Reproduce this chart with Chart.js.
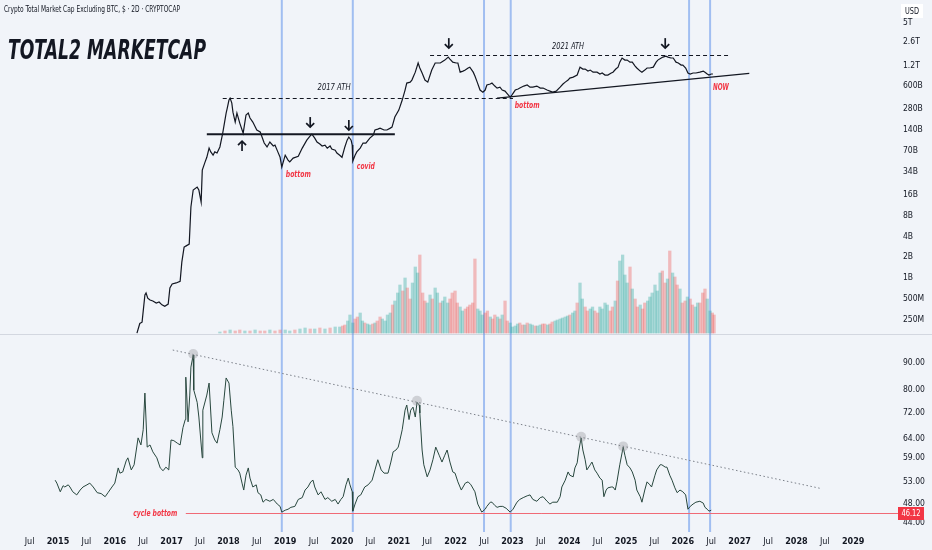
<!DOCTYPE html>
<html><head><meta charset="utf-8">
<script src="https://cdn.jsdelivr.net/npm/chart.js@4.4.0/dist/chart.umd.min.js"></script>
<style>html,body{margin:0;padding:0;background:#f1f4f9;overflow:hidden}canvas{display:block}</style>
</head><body>
<canvas id="c" width="932" height="550"></canvas>
<script>
// ---- price (TOTAL2, billions USD) ----
const priceDates=[2016.39,2016.44,2016.48,2016.53,2016.55,2016.58,2016.62,2016.67,2016.73,2016.78,
2016.83,2016.88,2016.94,2016.97,2017.01,2017.08,2017.15,2017.18,2017.22,2017.25,
2017.31,2017.34,2017.38,2017.45,2017.48,2017.52,2017.54,2017.59,2017.62,2017.66,
2017.69,2017.73,2017.76,2017.80,2017.85,2017.90,2017.96,2017.98,2018.01,2018.03,
2018.06,2018.08,2018.12,2018.15,2018.20,2018.26,2018.31,2018.35,2018.38,2018.43,
2018.50,2018.56,2018.63,2018.68,2018.73,2018.79,2018.82,2018.87,2018.91,2018.94,
2019.00,2019.05,2019.08,2019.14,2019.23,2019.30,2019.38,2019.44,2019.47,2019.52,
2019.56,2019.61,2019.65,2019.70,2019.74,2019.79,2019.82,2019.88,2019.91,2019.96,
2020.00,2020.05,2020.09,2020.12,2020.16,2020.18,2020.19,2020.23,2020.26,2020.32,
2020.37,2020.42,2020.49,2020.55,2020.58,2020.63,2020.67,2020.74,2020.79,2020.85,
2020.88,2020.93,2021.00,2021.06,2021.11,2021.14,2021.20,2021.23,2021.29,2021.34,
2021.37,2021.41,2021.46,2021.51,2021.58,2021.64,2021.73,2021.81,2021.87,2021.90,
2021.95,2022.01,2022.04,2022.08,2022.13,2022.17,2022.22,2022.25,2022.31,2022.34,
2022.38,2022.43,2022.48,2022.52,2022.55,2022.61,2022.64,2022.69,2022.73,2022.78,
2022.82,2022.87,2022.90,2022.96,2022.99,2023.05,2023.10,2023.13,2023.20,2023.26,
2023.31,2023.36,2023.43,2023.49,2023.54,2023.61,2023.66,2023.71,2023.77,2023.84,
2023.89,2023.93,2023.98,2024.01,2024.07,2024.14,2024.19,2024.24,2024.28,2024.33,
2024.37,2024.42,2024.49,2024.54,2024.58,2024.63,2024.68,2024.74,2024.77,2024.82,
2024.86,2024.89,2024.93,2024.98,2025.02,2025.07,2025.11,2025.16,2025.19,2025.25,
2025.28,2025.33,2025.37,2025.42,2025.48,2025.53,2025.56,2025.62,2025.65,2025.70,
2025.74,2025.79,2025.83,2025.88,2025.92,2025.97,2026.00,2026.05,2026.09,2026.13,
2026.18,2026.23,2026.30,2026.36,2026.39,2026.43,2026.46,2026.50,2026.53];
const priceValues=[0.16,0.22,0.23,0.57,0.61,0.51,0.48,0.465,0.435,0.45,
0.41,0.39,0.42,0.72,0.82,0.85,0.90,1.7,2.8,2.9,
3.1,10.7,18.8,20.7,18.8,12.6,36.5,48,56,76,
67,60,67,64.5,79,125,244,289,377,402,
340,252,181,244,175,125,229,244,207,181,
139,130,90,79,93,81.5,84,67,56,40.5,
60,51,48,54.5,58,76,99,114,121,106,
93,87,81.5,84,76,81.5,73.5,71,64.5,60,
56,79,99,110,99,84,49.4,60,67,76,
90,90,106,117,139,143,148,139,139,148,
153,214,270,377,526,664,685,734,955,1296,
1097,929,734,685,1024,1296,1296,1428,1579,1478,
1333,1296,1296,955,990,1024,1097,1128,955,838,
685,526,491,526,622,643,664,601,562,580,
526,508,475,416,445,526,545,562,601,622,
580,580,601,562,562,526,508,491,508,580,
643,685,734,784,810,867,1128,1060,1060,990,
1024,955,955,898,929,867,867,929,955,1060,
1128,1333,1530,1428,1428,1333,1333,1170,1097,990,
955,1024,1097,1097,1128,1333,1428,1530,1579,1630,
1579,1530,1530,1333,1296,1210,1210,1097,929,898,
929,929,955,990,955,898,867,898,898];

// ---- lower pane indicator ----
const indDates=[2014.95,2014.98,2015.04,2015.09,2015.12,2015.18,2015.21,2015.26,2015.33,2015.39,
2015.44,2015.51,2015.56,2015.62,2015.69,2015.76,2015.83,2015.88,2015.95,2016.00,
2016.06,2016.09,2016.14,2016.20,2016.23,2016.29,2016.34,2016.41,2016.46,2016.50,
2016.53,2016.57,2016.62,2016.67,2016.74,2016.80,2016.85,2016.90,2016.95,2016.99,
2017.04,2017.10,2017.15,2017.20,2017.24,2017.25,2017.29,2017.32,2017.34,2017.38,
2017.39,2017.45,2017.48,2017.54,2017.55,2017.62,2017.66,2017.71,2017.76,2017.80,
2017.85,2017.89,2017.92,2017.96,2018.01,2018.05,2018.08,2018.12,2018.17,2018.20,
2018.24,2018.27,2018.31,2018.35,2018.38,2018.43,2018.49,2018.52,2018.57,2018.61,
2018.66,2018.73,2018.79,2018.86,2018.91,2018.94,2019.00,2019.05,2019.10,2019.17,
2019.23,2019.30,2019.35,2019.40,2019.45,2019.49,2019.52,2019.58,2019.63,2019.70,
2019.75,2019.82,2019.88,2019.93,2019.98,2020.02,2020.07,2020.11,2020.14,2020.18,
2020.19,2020.23,2020.28,2020.33,2020.40,2020.46,2020.53,2020.58,2020.63,2020.69,
2020.74,2020.81,2020.86,2020.90,2020.95,2020.99,2021.02,2021.06,2021.11,2021.14,
2021.18,2021.21,2021.25,2021.29,2021.32,2021.36,2021.37,2021.41,2021.44,2021.50,
2021.55,2021.60,2021.65,2021.71,2021.76,2021.81,2021.85,2021.90,2021.95,2021.99,
2022.04,2022.10,2022.17,2022.22,2022.27,2022.34,2022.39,2022.46,2022.52,2022.55,
2022.61,2022.64,2022.69,2022.73,2022.78,2022.83,2022.89,2022.96,2023.01,2023.08,
2023.13,2023.19,2023.26,2023.31,2023.36,2023.43,2023.49,2023.54,2023.61,2023.66,
2023.71,2023.79,2023.84,2023.87,2023.93,2023.98,2024.01,2024.07,2024.10,2024.14,
2024.17,2024.21,2024.24,2024.28,2024.31,2024.37,2024.40,2024.45,2024.49,2024.54,
2024.58,2024.61,2024.65,2024.68,2024.74,2024.77,2024.81,2024.84,2024.89,2024.95,
2024.98,2025.02,2025.07,2025.11,2025.16,2025.19,2025.25,2025.28,2025.33,2025.37,
2025.42,2025.45,2025.51,2025.54,2025.60,2025.63,2025.69,2025.72,2025.77,2025.81,
2025.86,2025.90,2025.95,2026.00,2026.05,2026.09,2026.13,2026.18,2026.23,2026.30,
2026.36,2026.39,2026.43,2026.46,2026.50];
const indValues=[53.3,52.6,50.6,52.0,51.7,52.2,51.7,50.6,49.9,51.0,
51.7,52.2,52.6,51.7,50.4,50.2,49.5,50.4,51.7,52.6,
56.3,55.0,55.3,58.1,58.9,55.8,57.1,64.4,62.4,66.8,
78.7,61.8,62.4,60.5,58.9,56.3,55.6,56.5,55.8,63.8,
63.6,62.9,62.4,67.4,69.9,84.5,69.2,78.0,88.4,93.3,
79.8,75.5,70.7,58.9,72.9,78.0,82.3,65.9,63.8,62.9,
66.8,70.7,76.2,84.2,82.3,72.9,67.7,56.5,55.8,55.0,
52.6,51.0,54.5,56.3,53.8,51.7,52.2,50.4,49.9,48.3,
48.9,48.5,48.9,47.9,47.4,46.2,46.6,46.8,47.2,47.4,
48.9,49.3,51.0,51.7,52.9,53.3,51.7,49.9,50.6,48.9,
49.3,48.5,48.9,47.9,48.9,49.5,52.2,53.8,52.2,50.6,
46.4,47.9,49.5,49.9,51.7,52.2,53.3,55.8,58.4,55.8,
55.0,55.0,57.8,60.5,61.0,61.8,63.8,66.8,72.9,74.6,
69.9,72.9,73.9,70.7,75.5,74.6,72.0,61.0,57.1,54.1,
55.8,58.4,61.8,59.6,57.8,59.6,61.0,57.8,55.3,55.0,
52.9,51.0,52.6,52.9,52.2,50.6,47.9,46.2,46.8,47.4,
48.3,48.3,47.6,47.2,47.4,47.4,47.0,46.2,46.8,48.3,
48.9,49.3,49.7,49.9,48.9,48.5,49.3,49.5,48.5,47.9,
48.3,48.3,49.5,51.7,53.3,55.3,54.5,54.1,56.3,57.6,
61.0,64.4,61.0,58.4,55.8,57.1,57.8,55.8,55.0,53.8,
53.3,49.5,51.0,51.5,51.7,51.7,51.0,52.9,57.1,61.8,
59.6,57.1,56.3,55.3,53.3,51.0,49.5,48.3,51.0,52.9,
52.2,51.7,54.5,55.8,57.1,57.1,56.5,56.5,54.5,53.3,
51.5,50.4,51.0,50.6,49.9,46.8,47.4,47.9,48.3,48.5,
48.1,47.2,46.8,46.4,46.6];

// ---- volume overlay (relative units) ----
const volDates=[2017.85,2017.94,2018.03,2018.12,2018.20,2018.29,2018.38,2018.47,2018.56,2018.64,
2018.73,2018.82,2018.91,2019.00,2019.08,2019.17,2019.26,2019.35,2019.44,2019.52,
2019.61,2019.70,2019.79,2019.88,2019.96,2020.05,2020.14,2020.23,2020.32,2020.40,
2020.49,2020.58,2020.67,2020.76,2020.85,2020.93,2021.02,2021.11,2021.20,2021.29,
2021.37,2021.46,2021.55,2021.64,2021.73,2021.81,2021.90,2021.99,2022.08,2022.17,
2022.25,2022.34,2022.43,2022.52,2022.61,2022.69,2022.78,2022.87,2022.96,2023.05,
2023.13,2023.22,2023.31,2023.40,2023.49,2023.57,2023.66,2023.75,2023.84,2023.93,
2024.01,2024.10,2024.19,2024.28,2024.37,2024.45,2024.54,2024.63,2024.72,2024.81,
2024.89,2024.98,2025.07,2025.16,2025.25,2025.33,2025.42,2025.51,2025.60,2025.69,
2025.77,2025.86,2025.95,2026.04,2026.13,2026.22,2026.30,2026.39,2026.48,2026.55];
const volValues=[1,2,3,2,3,2,2,3,2,2,
3,2,3,3,2,3,4,5,4,4,
5,4,5,6,6,8,18,14,20,10,
8,10,16,12,20,32,48,55,34,66,
78,32,38,45,30,36,34,42,26,24,
28,74,22,20,16,18,14,32,10,7,
10,8,9,7,8,9,9,12,14,16,
18,22,50,26,24,22,26,30,22,32,
72,58,66,34,28,30,36,48,60,50,
82,56,44,32,34,26,30,44,22,18];
const volDir="ududdududduddu uduudu duduududud uuduuuuudu dduududdud ddududdduu duududduuu duududuudu uudduduuud ddudduddud".replace(/ /g,'').split('');
// in-between bars (2020-2026, denser sampling)
const volDates2=[2020.01,2020.10,2020.19,2020.27,2020.36,2020.45,2020.54,2020.62,2020.71,2020.80,
2020.89,2020.98,2021.07,2021.15,2021.24,2021.33,2021.42,2021.50,2021.59,2021.68,
2021.77,2021.86,2021.94,2022.03,2022.12,2022.21,2022.30,2022.39,2022.47,2022.56,
2022.65,2022.74,2022.82,2022.91,2023.00,2023.09,2023.18,2023.26,2023.35,2023.44,
2023.53,2023.62,2023.70,2023.79,2023.88,2023.97,2024.06,2024.14,2024.23,2024.32,
2024.41,2024.50,2024.58,2024.67,2024.76,2024.85,2024.94,2025.02,2025.11,2025.20,
2025.29,2025.38,2025.46,2025.55,2025.64,2025.73,2025.82,2025.90,2025.99,2026.08,
2026.17,2026.26,2026.35,2026.43,2026.52];
const volValues2=[7,12,10,16,12,9,9,12,14,18,
28,40,42,45,50,60,40,30,34,40,
32,30,40,30,22,26,30,24,18,22,
14,16,18,12,6,9,8,10,8,7,
9,8,11,13,15,17,20,30,34,22,
26,20,24,28,26,52,78,50,44,26,
24,32,40,42,62,54,60,48,30,36,
28,30,40,34,20];
const volDir2="duuduudduu dudduududu uuddudduud duuduudduu duduuuudud uduudduuud duuuduuddu dudud".replace(/ /g,'').split('');

// ---- axes ----
const xTicks=[2014.5,2015,2015.5,2016,2016.5,2017,2017.5,2018,2018.5,2019,2019.5,2020,2020.5,2021,2021.5,2022,2022.5,2023,2023.5,2024,2024.5,2025,2025.5,2026,2026.5,2027,2027.5,2028,2028.5,2029];
const priceTicks=[0.25,0.5,1,2,4,8,16,34,70,140,280,600,1200,2600,5000];
const priceTickLabels=['250M','500M','1B','2B','4B','8B','16B','34B','70B','140B','280B','600B','1.2T','2.6T','5T'];
const indTicks=[44,48,53,59,64,72,80,90];

// ---- annotations (data coordinates) ----
const cycleMarks=[2018.94,2020.19,2022.50,2022.97,2026.11,2026.48];
const cycleBottom=46.12;
const athLines=[{from:2017.90,to:2023.01,value:410},{from:2021.55,to:2026.83,value:1690}];
const rangeLine={from:2017.62,to:2020.93,value:121};
const trendTop=[[2022.73,402],[2027.17,915]];
const trendBottom=[[2017.02,95.4],[2028.45,51.3]];
const peakMarks=[[2017.38,93.7],[2021.32,76.0],[2024.21,64.7],[2024.95,62.0]];
const arrowsUp=[[2018.24,69,96]];
const arrowsDown=[[2019.44,214,153],[2020.12,194,139],[2021.88,2970,2130],[2025.69,2970,2130]];
const priceNotes=[
 {t:'2017 ATH',x:2019.86,v:562,red:false,w:33},
 {t:'2021 ATH',x:2023.98,v:2205,red:false,w:32},
 {t:'bottom',x:2019.23,v:31,red:true,w:25},
 {t:'covid',x:2020.42,v:40.5,red:true,w:18},
 {t:'bottom',x:2023.26,v:309,red:true,w:25},
 {t:'NOW',x:2026.67,v:562,red:true,w:16}];

const NARROW="'Liberation Sans Narrow','DejaVu Sans Condensed',Roboto,sans-serif";
const BG='#f1f4f9';
const RED='#f23645';
const UPC='rgba(38,166,154,0.36)', DNC='rgba(239,83,80,0.36)';

function fitText(c,txt,x,y,font,w,color,align){
  c.save();c.font=font;const m=c.measureText(txt).width;const s=w/m;
  let x0=x; if(align==='center')x0=x-w/2; else if(align==='right')x0=x-w;
  c.translate(x0,y);c.scale(s,1);c.fillStyle=color;c.textBaseline='middle';c.textAlign='left';
  c.fillText(txt,0,0);c.restore();
}

const deco={
  id:'deco',
  beforeDraw(ch){
    const c=ch.ctx;c.save();c.fillStyle=BG;c.fillRect(0,0,ch.width,ch.height);
    const sep=Math.round(ch.scales.yP.bottom)+0.5;
    c.strokeStyle='#d3d7e0';c.lineWidth=1;c.beginPath();c.moveTo(0,sep);c.lineTo(ch.width,sep);c.stroke();
    c.restore();
  },
  beforeDatasetsDraw(ch){
    const c=ch.ctx,x=ch.scales.x;c.save();
    c.strokeStyle='rgba(95,145,235,0.55)';c.lineWidth=2;
    cycleMarks.forEach(d=>{const px=x.getPixelForValue(d);c.beginPath();c.moveTo(px,0);c.lineTo(px,ch.chartArea.bottom+2);c.stroke();});
    c.restore();
  },
  afterDatasetsDraw(ch){
    const c=ch.ctx,x=ch.scales.x,yP=ch.scales.yP,yI=ch.scales.yI,ca=ch.chartArea;
    c.save();
    c.strokeStyle='#131722';c.lineWidth=1;c.setLineDash([4,3]);
    athLines.forEach(l=>{const y=Math.round(yP.getPixelForValue(l.value))+0.5;c.beginPath();c.moveTo(x.getPixelForValue(l.from),y);c.lineTo(x.getPixelForValue(l.to),y);c.stroke();});
    c.setLineDash([]);
    c.lineWidth=2;{const y=yP.getPixelForValue(rangeLine.value);c.beginPath();c.moveTo(x.getPixelForValue(rangeLine.from),y);c.lineTo(x.getPixelForValue(rangeLine.to),y);c.stroke();}
    c.lineWidth=1.2;c.beginPath();c.moveTo(x.getPixelForValue(trendTop[0][0]),yP.getPixelForValue(trendTop[0][1]));c.lineTo(x.getPixelForValue(trendTop[1][0]),yP.getPixelForValue(trendTop[1][1]));c.stroke();
    const arrow=(d,from,to)=>{const px=x.getPixelForValue(d),y1=yP.getPixelForValue(from),y2=yP.getPixelForValue(to);const dir=y2>y1?1:-1;
      c.lineWidth=1.7;c.strokeStyle='#131722';c.beginPath();c.moveTo(px,y1);c.lineTo(px,y2);c.stroke();
      c.beginPath();c.moveTo(px-4,y2-4*dir);c.lineTo(px,y2);c.lineTo(px+4,y2-4*dir);c.stroke();};
    arrowsUp.forEach(a=>arrow(a[0],a[1],a[2]));
    arrowsDown.forEach(a=>arrow(a[0],a[1],a[2]));
    priceNotes.forEach(n=>{fitText(c,n.t,x.getPixelForValue(n.x),yP.getPixelForValue(n.v),(n.red?'bold italic ':'italic ')+'9px '+NARROW,n.w,n.red?RED:'#131722','center');});
    c.strokeStyle='#7b8089';c.lineWidth=1;c.setLineDash([1.5,2.5]);
    c.beginPath();c.moveTo(x.getPixelForValue(trendBottom[0][0]),yI.getPixelForValue(trendBottom[0][1]));c.lineTo(x.getPixelForValue(trendBottom[1][0]),yI.getPixelForValue(trendBottom[1][1]));c.stroke();
    c.setLineDash([]);
    c.fillStyle='rgba(140,140,145,0.35)';
    peakMarks.forEach(p=>{c.beginPath();c.arc(x.getPixelForValue(p[0]),yI.getPixelForValue(p[1]),5,0,Math.PI*2);c.fill();});
    const yb=Math.round(yI.getPixelForValue(cycleBottom))+0.5;
    c.strokeStyle='#f06a76';c.lineWidth=1;c.beginPath();c.moveTo(x.getPixelForValue(2017.25),yb);c.lineTo(ca.right+5,yb);c.stroke();
    fitText(c,'cycle bottom',x.getPixelForValue(2017.10),yb,'bold italic 9px '+NARROW,44,RED,'right');
    c.fillStyle=RED;c.fillRect(ca.right+5,yb-6.5,26,13);
    fitText(c,cycleBottom.toFixed(2),ca.right+18,yb,'8.5px '+NARROW,19,'#ffffff','center');
    c.fillStyle='#ffffff';c.fillRect(ca.right+8,4,22,14);
    fitText(c,'USD',ca.right+19,11.5,'8px '+NARROW,14,'#131722','center');
    fitText(c,'Crypto Total Market Cap Excluding BTC, $ · 2D · CRYPTOCAP',4,10,'8.5px '+NARROW,176,'#131722','left');
    fitText(c,'TOTAL2 MARKETCAP',8,52,"bold italic 27px 'DejaVu Sans'",198,'#131722','left');
    c.restore();
  }
};

const volPoints=volDates.map((d,i)=>({x:d,y:volValues[i]})).concat(volDates2.map((d,i)=>({x:d,y:volValues2[i]})));
const volColors=volDir.map(d=>d==='u'?UPC:DNC).concat(volDir2.map(d=>d==='u'?UPC:DNC));

const yTickCommon={color:'#131722',padding:10,autoSkip:false,font:{family:NARROW,size:8.5}};
new Chart(document.getElementById('c'),{
  type:'bar',
  data:{datasets:[
    {type:'bar',data:volPoints,xAxisID:'x',yAxisID:'yV',backgroundColor:volColors,barThickness:2.6,borderWidth:0,order:3},
    {type:'line',data:priceDates.map((d,i)=>({x:d,y:priceValues[i]})),xAxisID:'x',yAxisID:'yP',
     borderColor:'#131722',borderWidth:1.2,pointRadius:0,tension:0,order:1},
    {type:'line',data:indDates.map((d,i)=>({x:d,y:indValues[i]})),xAxisID:'x',yAxisID:'yI',
     borderColor:'#28473e',borderWidth:1,pointRadius:0,tension:0,order:2}
  ]},
  options:{
    responsive:false,animation:false,
    layout:{padding:0},
    plugins:{legend:{display:false},tooltip:{enabled:false}},
    scales:{
      x:{type:'linear',position:'bottom',min:2013.979,max:2029.70,bounds:'data',offset:false,
        grid:{display:false,drawTicks:false,offset:false},border:{display:false},
        afterBuildTicks:s=>{s.ticks=xTicks.map(v=>({value:v}));},
        afterFit:s=>{s.height=20;s.paddingLeft=0;s.paddingRight=0;},
        ticks:{autoSkip:false,maxRotation:0,padding:6,color:'#131722',
          font:c=>({family:NARROW,size:9,weight:(c.tick&&Number.isInteger(c.tick.value))?'bold':'normal'}),
          callback:v=>Number.isInteger(v)?String(v):'Jul'}},
      yP:{type:'logarithmic',position:'right',stack:'panes',stackWeight:334,min:0.155,max:10580,bounds:'data',offset:false,
        grid:{display:false,drawTicks:false},border:{display:false},
        afterBuildTicks:s=>{s.ticks=priceTicks.map(v=>({value:v}));},
        afterFit:s=>{s.width=39;s.paddingTop=0;s.paddingBottom=0;},
        ticks:Object.assign({},yTickCommon,{callback:(v,i)=>priceTickLabels[i]})},
      yI:{type:'logarithmic',position:'right',stack:'panes',stackWeight:196,min:42.65,max:102.5,bounds:'data',offset:false,
        grid:{display:false,drawTicks:false},border:{display:false},
        afterBuildTicks:s=>{s.ticks=indTicks.map(v=>({value:v}));},
        afterFit:s=>{s.width=39;s.paddingTop=0;s.paddingBottom=0;},
        ticks:Object.assign({},yTickCommon,{callback:v=>Number(v).toFixed(2)})},
      yV:{type:'linear',position:'left',display:false,min:-197,max:333,bounds:'data'}
    }
  },
  plugins:[deco]
});
</script>
</body></html>
